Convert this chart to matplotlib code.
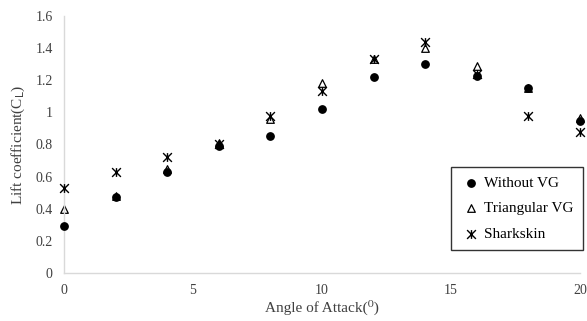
import matplotlib.pyplot as plt
from matplotlib.path import Path

plt.rcParams['font.family'] = ['Liberation Serif', 'DejaVu Serif']

# angle of attack (deg)
aoa = [0, 2, 4, 6, 8, 10, 12, 14, 16, 18, 20]

# lift coefficients
cl_without = [0.29, 0.47, 0.63, 0.79, 0.855, 1.02, 1.22, 1.30, 1.225, 1.15, 0.945]
cl_triangular = [0.40, 0.48, 0.65, 0.81, 0.96, 1.18, 1.33, 1.40, 1.29, 1.15, 0.965]
cl_shark = [0.53, 0.63, 0.72, 0.80, 0.98, 1.13, 1.33, 1.44, 1.24, 0.98, 0.88]

# excel style star: X with a vertical bar
star = Path([(-1, -1), (1, 1), (-1, 1), (1, -1), (0, -1), (0, 1)],
            [Path.MOVETO, Path.LINETO, Path.MOVETO, Path.LINETO, Path.MOVETO, Path.LINETO])

fig = plt.figure(figsize=(5.87, 3.21), dpi=100)
ax = fig.add_axes([0.109, 0.150, 0.879, 0.800])

ax.scatter(aoa, cl_without, marker='o', s=28, color='black', label='Without VG', clip_on=False, zorder=3)
ax.scatter(aoa, cl_triangular, marker='^', s=30, facecolors='white', edgecolors='black',
           linewidths=0.9, label='Triangular VG', clip_on=False, zorder=2)
ax.scatter(aoa, cl_shark, marker=star, s=40, color='black', linewidths=1.0,
           label='Sharkskin', clip_on=False, zorder=4)

ax.set_xlim(0, 20)
ax.set_ylim(0, 1.6)
ax.set_xticks([0, 5, 10, 15, 20])
ax.set_yticks([0, 0.2, 0.4, 0.6, 0.8, 1.0, 1.2, 1.4, 1.6])
ax.set_yticklabels(['0', '0.2', '0.4', '0.6', '0.8', '1', '1.2', '1.4', '1.6'])
ax.tick_params(length=0, labelsize=10, colors='#404040', pad=8)

for side in ['top', 'right']:
    ax.spines[side].set_visible(False)
for side in ['left', 'bottom']:
    ax.spines[side].set_color('#d9d9d9')
    ax.spines[side].set_linewidth(1.0)

ax.set_xlabel('Angle of Attack(\u2070)', fontsize=11, color='#404040', labelpad=2)
ax.set_ylabel('Lift coefficient(C$_{\\mathrm{L}}$)', fontsize=11, color='#404040', labelpad=6)

leg = ax.legend(loc='lower right', bbox_to_anchor=(1.006, 0.09), frameon=True, fancybox=False,
                edgecolor='black', fontsize=11, handletextpad=0.2, handlelength=1.4,
                borderpad=0.6, labelspacing=0.75, borderaxespad=0)
leg.get_frame().set_linewidth(1.0)

fig.savefig('out.png', dpi=100)
